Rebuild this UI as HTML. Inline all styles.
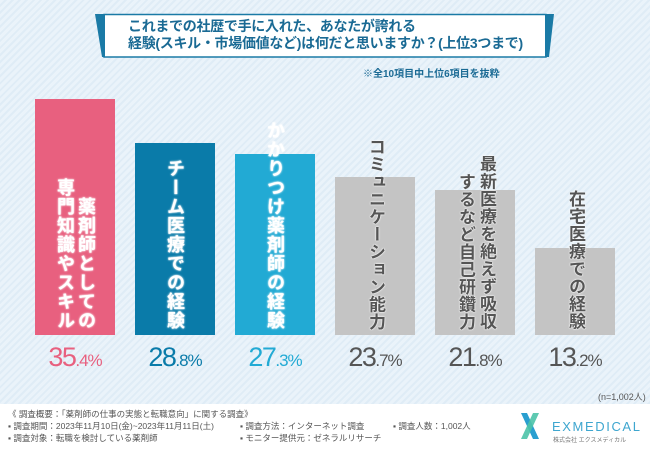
<!DOCTYPE html>
<html><head><meta charset="utf-8"><style>
body{margin:0;width:650px;height:450px;overflow:hidden;font-family:"Liberation Sans","Noto Sans CJK JP",sans-serif;}
#bg{position:absolute;left:0;top:0;width:650px;height:404px;background:repeating-linear-gradient(135deg,#eaf3fa 0 3px,#dfecf6 3px 5px);}
#foot{position:absolute;left:0;top:404px;width:650px;height:46px;background:#fff;}
.bar{position:absolute;width:80px;}
.lab{position:absolute;bottom:120px;writing-mode:vertical-rl;font-size:18px;font-weight:bold;color:#fff;line-height:20px;letter-spacing:1px;white-space:nowrap;}
.g{color:#555;font-size:17px;letter-spacing:0.5px;text-shadow:0 0 2px #fff,0 0 1px #fff,0 0 1px #fff;}
.w{text-shadow:0 0 2px #fff,0 0 1px #fff;}
.pct{position:absolute;width:100px;text-align:center;top:342px;font-size:27px;letter-spacing:-1.5px;}
.pct small{font-size:17px;letter-spacing:-1px;}
.fn{position:absolute;font-size:8.5px;color:#555;white-space:nowrap;}
</style></head><body>
<div id="bg"></div><div id="foot"></div>
<svg style="position:absolute;left:0;top:0" width="650" height="80">
<rect x="104" y="14.5" width="442" height="42.5" fill="#fff" stroke="#1a7aa6" stroke-width="1.5"/>
<polygon points="95,14 105,14 105,57 102,57" fill="#1a7aa6"/>
<polygon points="545,14 554,14 549,57 545,57" fill="#1a7aa6"/>
</svg>
<div style="position:absolute;left:128px;top:18px;font-size:14px;font-weight:bold;color:#1a6a94;line-height:17px;white-space:nowrap;letter-spacing:-0.3px">これまでの社歴で手に入れた、あなたが誇れる<br>経験(スキル・市場価値など)は何だと思いますか？(上位3つまで)</div>
<div style="position:absolute;left:363px;top:65px;font-size:10px;font-weight:bold;color:#1a6a94">※全10項目中上位6項目を抜粋</div>

<div class="bar" style="left:35px;top:99px;height:236px;background:#e8607f"></div>
<div class="bar" style="left:135px;top:143px;height:192px;background:#0a7ba9"></div>
<div class="bar" style="left:235px;top:154px;height:181px;background:#22aad4"></div>
<div class="bar" style="left:335px;top:177px;height:158px;background:#c4c4c4"></div>
<div class="bar" style="left:435px;top:190px;height:145px;background:#c4c4c4"></div>
<div class="bar" style="left:535px;top:248px;height:87px;background:#c4c4c4"></div>

<div class="lab w" style="left:55px">専門知識やスキル</div>
<div class="lab w" style="left:76px">薬剤師としての</div>
<div class="lab w" style="left:165px">チーム医療での経験</div>
<div class="lab w" style="left:265px">かかりつけ薬剤師の経験</div>
<div class="lab g" style="left:365px">コミュニケーション能力</div>
<div class="lab g" style="left:455px">するなど自己研鑽力</div>
<div class="lab g" style="left:476px">最新医療を絶えず吸収</div>
<div class="lab g" style="left:565px">在宅医療での経験</div>

<div class="pct" style="left:25px;color:#e8607f">35<small>.4%</small></div>
<div class="pct" style="left:125px;color:#0a7ba9">28<small>.8%</small></div>
<div class="pct" style="left:225px;color:#22aad4">27<small>.3%</small></div>
<div class="pct" style="left:325px;color:#555">23<small>.7%</small></div>
<div class="pct" style="left:425px;color:#555">21<small>.8%</small></div>
<div class="pct" style="left:525px;color:#555">13<small>.2%</small></div>

<div class="fn" style="left:598px;top:390px;font-size:9px">(n=1,002人)</div>
<div class="fn" style="left:8px;top:408px">《 調査概要：「薬剤師の仕事の実態と転職意向」に関する調査》</div>
<div class="fn" style="left:8px;top:420px">▪ 調査期間：2023年11月10日(金)~2023年11月11日(土)</div>
<div class="fn" style="left:8px;top:432px">▪ 調査対象：転職を検討している薬剤師</div>
<div class="fn" style="left:240px;top:420px">▪ 調査方法：インターネット調査</div>
<div class="fn" style="left:240px;top:432px">▪ モニター提供元：ゼネラルリサーチ</div>
<div class="fn" style="left:393px;top:420px">▪ 調査人数：1,002人</div>

<svg style="position:absolute;left:520px;top:412px" width="20" height="28">
<polygon points="1,1 7,1 19,27 13,27" fill="#2a9fd0"/>
<polygon points="13,1 19,1 7,27 1,27" fill="#4cc3a8" opacity="0.9"/>
</svg>
<div style="position:absolute;left:552px;top:419px;font-size:13px;color:#3ea6cf;letter-spacing:1.6px">EXMEDICAL</div>
<div style="position:absolute;left:553px;top:435px;font-size:6px;color:#777">株式会社 エクスメディカル</div>
</body></html>
